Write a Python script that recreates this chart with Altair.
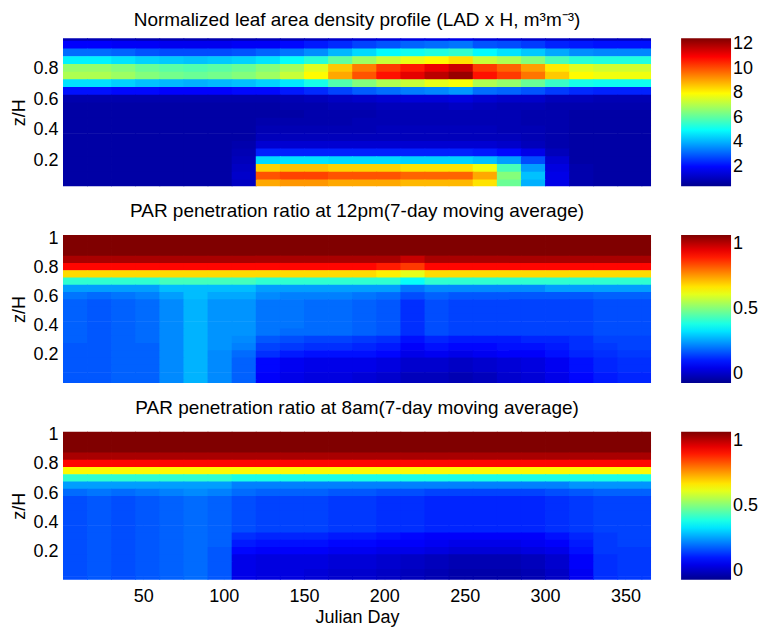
import altair as alt
import pandas as pd

FONT = "Liberation Sans"

# Julian-day bins (start of each 15-day column)
DAYS = [0, 15, 30, 45, 60, 75, 90, 105, 120, 135, 150, 165, 180,
        195, 210, 225, 240, 255, 270, 285, 300, 315, 330, 345, 360]
DAY_LAST = 366

# normalized height levels (z/H), top to bottom
Z_LAD = [1.0, 0.95, 0.9, 0.85, 0.8, 0.75, 0.7, 0.65, 0.6, 0.55, 0.5,
         0.45, 0.4, 0.35, 0.3, 0.25, 0.2, 0.15, 0.1, 0.05]
Z_PAR = [1.0, 0.95, 0.9, 0.85, 0.8, 0.75, 0.7, 0.65, 0.6, 0.55, 0.5,
         0.45, 0.4, 0.35, 0.3, 0.25, 0.2, 0.15, 0.1, 0.05, 0.0]

# Panel 1: normalized leaf area density (LAD x H)
LAD = [
    [0.9,0.9,0.9,0.8,0.8,0.8,0.8,0.8,0.9,0.9,1.0,1.2,1.3,1.4,1.5,1.5,1.6,1.4,1.3,1.2,1.1,1.0,1.0,1.0,1.0],
    [1.9,1.9,1.8,1.8,1.7,1.7,1.7,1.8,1.8,2.0,2.2,2.4,2.7,2.9,3.1,3.2,3.3,2.9,2.8,2.6,2.3,2.2,2.1,2.1,2.1],
    [3.2,3.2,3.1,2.9,2.8,2.8,2.8,2.9,3.1,3.3,3.6,4.1,4.5,4.9,5.1,5.3,5.5,4.9,4.6,4.3,3.9,3.6,3.5,3.5,3.5],
    [4.8,4.8,4.6,4.4,4.3,4.2,4.3,4.4,4.6,5.0,5.4,6.1,6.8,7.3,7.7,8.0,8.3,7.3,7.0,6.5,5.8,5.4,5.3,5.3,5.3],
    [6.7,6.7,6.5,6.2,6.0,5.9,6.0,6.2,6.5,6.9,7.6,8.6,9.5,10.3,10.7,11.2,11.6,10.3,9.8,9.1,8.2,7.6,7.4,7.4,7.4],
    [7.0,7.0,6.8,6.5,6.3,6.2,6.3,6.5,6.8,7.3,8.0,9.0,10.0,10.8,11.3,11.8,12.2,10.8,10.3,9.6,8.6,8.0,7.8,7.8,7.8],
    [4.6,4.6,4.4,4.2,4.1,4.0,4.1,4.2,4.4,4.7,5.2,5.9,6.5,7.0,7.3,7.7,7.9,7.0,6.7,6.2,5.6,5.2,5.1,5.1,5.1],
    [2.1,2.1,2.0,2.0,1.9,1.9,1.9,2.0,2.0,2.2,2.4,2.7,3.0,3.2,3.4,3.5,3.7,3.2,3.1,2.9,2.6,2.4,2.3,2.3,2.3],
    [0.8,0.8,0.8,0.8,0.8,0.8,0.8,0.8,0.8,0.9,1.0,1.1,1.2,1.3,1.4,1.4,1.5,1.3,1.2,1.2,1.0,1.0,0.9,0.9,0.9],
    [0.7,0.7,0.7,0.7,0.7,0.7,0.7,0.7,0.7,0.8,0.8,0.9,0.9,1.0,1.0,1.0,1.1,1.0,0.9,0.9,0.8,0.8,0.8,0.8,0.8],
    [0.7,0.7,0.7,0.7,0.7,0.7,0.7,0.7,0.7,0.7,0.8,0.8,0.8,0.9,0.9,0.9,0.9,0.9,0.9,0.8,0.8,0.7,0.7,0.7,0.7],
    [0.7,0.7,0.7,0.7,0.7,0.7,0.7,0.7,0.8,0.8,0.8,0.8,0.9,0.9,0.9,0.9,0.9,0.9,0.9,0.8,0.8,0.7,0.7,0.7,0.7],
    [0.7,0.7,0.7,0.7,0.7,0.7,0.7,0.7,0.9,0.9,0.9,0.9,0.9,1.0,1.0,1.0,1.0,1.0,0.9,0.9,0.8,0.7,0.7,0.7,0.7],
    [0.7,0.7,0.7,0.7,0.7,0.7,0.7,0.7,1.0,1.0,1.0,1.0,1.0,1.0,1.0,1.0,1.0,1.0,1.0,0.9,0.8,0.7,0.7,0.7,0.7],
    [0.7,0.7,0.7,0.7,0.7,0.7,0.7,0.8,1.3,1.3,1.3,1.3,1.3,1.3,1.3,1.3,1.3,1.3,1.2,1.0,0.8,0.7,0.7,0.7,0.7],
    [0.7,0.7,0.7,0.7,0.7,0.7,0.7,0.9,2.3,2.3,2.3,2.3,2.3,2.3,2.3,2.3,2.3,2.2,2.0,1.6,1.0,0.7,0.7,0.7,0.7],
    [0.7,0.7,0.7,0.7,0.7,0.7,0.7,1.0,4.5,4.6,4.6,4.5,4.5,4.5,4.4,4.4,4.4,4.2,3.8,2.8,1.3,0.7,0.7,0.7,0.7],
    [0.7,0.7,0.7,0.7,0.7,0.7,0.7,1.1,8.5,8.7,8.7,8.5,8.5,8.5,8.3,8.3,8.3,7.8,5.8,3.8,1.5,0.8,0.7,0.7,0.7],
    [0.7,0.7,0.7,0.7,0.7,0.7,0.7,1.2,10.0,10.2,10.2,10.0,10.0,10.0,9.8,9.8,9.8,9.0,6.5,4.2,1.6,0.8,0.7,0.7,0.7],
    [0.7,0.7,0.7,0.7,0.7,0.7,0.7,1.1,9.0,9.2,9.2,9.0,9.0,9.0,8.8,8.8,8.8,8.3,6.2,4.0,1.6,0.8,0.7,0.7,0.7],
]

# Panel 2: PAR penetration ratio at 12pm
PAR12 = [
    [1.0]*25,
    [1.0]*25,
    [1.0]*25,
    [0.96,0.96,0.96,0.96,0.96,0.96,0.96,0.96,0.96,0.96,0.96,0.96,0.96,0.96,0.93,0.96,0.96,0.96,0.96,0.96,0.96,0.96,0.96,0.96,0.96],
    [0.87,0.87,0.87,0.87,0.87,0.87,0.87,0.87,0.87,0.87,0.87,0.87,0.87,0.85,0.82,0.87,0.87,0.87,0.87,0.87,0.87,0.87,0.87,0.87,0.87],
    [0.66,0.66,0.66,0.66,0.66,0.66,0.66,0.66,0.66,0.66,0.66,0.66,0.66,0.64,0.60,0.66,0.66,0.66,0.66,0.66,0.66,0.66,0.66,0.66,0.66],
    [0.42,0.42,0.42,0.42,0.44,0.44,0.44,0.44,0.42,0.42,0.42,0.42,0.42,0.42,0.38,0.42,0.42,0.42,0.42,0.42,0.42,0.42,0.42,0.42,0.42],
    [0.28,0.28,0.28,0.28,0.31,0.31,0.31,0.31,0.28,0.28,0.28,0.28,0.28,0.28,0.24,0.26,0.26,0.26,0.26,0.26,0.28,0.28,0.28,0.28,0.28],
    [0.24,0.23,0.24,0.25,0.28,0.31,0.29,0.29,0.26,0.25,0.25,0.25,0.24,0.23,0.20,0.22,0.21,0.21,0.21,0.21,0.21,0.21,0.22,0.22,0.22],
    [0.22,0.21,0.22,0.23,0.26,0.30,0.27,0.27,0.24,0.24,0.23,0.23,0.22,0.21,0.17,0.20,0.19,0.19,0.19,0.19,0.19,0.19,0.20,0.20,0.20],
    [0.22,0.21,0.22,0.23,0.26,0.30,0.27,0.27,0.24,0.24,0.23,0.23,0.22,0.21,0.17,0.20,0.19,0.19,0.19,0.19,0.19,0.19,0.20,0.20,0.20],
    [0.22,0.21,0.22,0.23,0.26,0.30,0.27,0.27,0.24,0.24,0.23,0.23,0.22,0.21,0.17,0.20,0.19,0.19,0.19,0.19,0.19,0.19,0.20,0.20,0.20],
    [0.22,0.21,0.22,0.23,0.26,0.30,0.27,0.27,0.24,0.24,0.23,0.23,0.22,0.21,0.17,0.20,0.19,0.19,0.19,0.19,0.19,0.19,0.20,0.20,0.20],
    [0.22,0.21,0.22,0.23,0.26,0.30,0.27,0.27,0.24,0.23,0.23,0.23,0.22,0.21,0.17,0.20,0.19,0.19,0.19,0.19,0.19,0.19,0.20,0.20,0.20],
    [0.22,0.21,0.22,0.23,0.26,0.30,0.27,0.26,0.21,0.20,0.19,0.19,0.18,0.17,0.14,0.16,0.15,0.15,0.15,0.16,0.16,0.17,0.19,0.19,0.19],
    [0.21,0.21,0.22,0.22,0.26,0.30,0.27,0.25,0.19,0.18,0.17,0.17,0.16,0.15,0.12,0.14,0.13,0.13,0.14,0.14,0.15,0.17,0.18,0.19,0.19],
    [0.21,0.21,0.22,0.22,0.26,0.30,0.26,0.23,0.17,0.15,0.14,0.14,0.14,0.13,0.10,0.11,0.10,0.11,0.12,0.12,0.14,0.16,0.17,0.18,0.18],
    [0.21,0.21,0.22,0.22,0.26,0.30,0.26,0.22,0.13,0.11,0.10,0.10,0.10,0.09,0.07,0.07,0.06,0.07,0.08,0.09,0.11,0.14,0.16,0.17,0.17],
    [0.21,0.21,0.22,0.22,0.26,0.30,0.26,0.22,0.13,0.11,0.10,0.10,0.10,0.09,0.07,0.07,0.06,0.07,0.08,0.09,0.11,0.14,0.16,0.17,0.17],
    [0.21,0.21,0.22,0.22,0.26,0.30,0.26,0.22,0.12,0.10,0.09,0.09,0.08,0.07,0.05,0.05,0.04,0.05,0.07,0.08,0.10,0.13,0.15,0.16,0.16],
    [0.21,0.21,0.22,0.22,0.26,0.30,0.26,0.22,0.12,0.10,0.09,0.09,0.08,0.07,0.05,0.05,0.04,0.05,0.07,0.08,0.10,0.13,0.15,0.16,0.16],
]

# Panel 3: PAR penetration ratio at 8am
PAR8 = [
    [1.0]*25,
    [1.0]*25,
    [1.0]*25,
    [0.96]*25,
    [0.87]*25,
    [0.63]*25,
    [0.42,0.42,0.42,0.42,0.42,0.42,0.42,0.40,0.40,0.40,0.40,0.40,0.40,0.40,0.40,0.40,0.40,0.40,0.40,0.40,0.40,0.40,0.40,0.40,0.40],
    [0.28,0.28,0.28,0.28,0.28,0.28,0.28,0.25,0.25,0.25,0.25,0.25,0.25,0.25,0.25,0.25,0.25,0.25,0.25,0.25,0.25,0.27,0.27,0.27,0.27],
    [0.23,0.24,0.23,0.24,0.25,0.26,0.25,0.23,0.22,0.22,0.22,0.21,0.21,0.20,0.20,0.19,0.19,0.19,0.19,0.19,0.20,0.21,0.22,0.22,0.22],
    [0.20,0.21,0.20,0.21,0.22,0.23,0.22,0.20,0.19,0.19,0.19,0.18,0.18,0.17,0.17,0.16,0.16,0.16,0.16,0.16,0.17,0.18,0.19,0.19,0.19],
    [0.20,0.21,0.20,0.21,0.22,0.23,0.22,0.20,0.19,0.19,0.19,0.18,0.18,0.17,0.17,0.16,0.16,0.16,0.16,0.16,0.17,0.18,0.19,0.19,0.19],
    [0.20,0.21,0.20,0.21,0.22,0.23,0.22,0.20,0.19,0.19,0.19,0.18,0.18,0.17,0.17,0.16,0.16,0.16,0.16,0.16,0.17,0.18,0.19,0.19,0.19],
    [0.20,0.21,0.20,0.21,0.22,0.23,0.22,0.20,0.19,0.19,0.19,0.18,0.18,0.17,0.17,0.16,0.16,0.16,0.16,0.16,0.17,0.18,0.19,0.19,0.19],
    [0.20,0.21,0.20,0.21,0.22,0.23,0.22,0.20,0.19,0.19,0.19,0.18,0.18,0.17,0.17,0.16,0.16,0.16,0.16,0.16,0.17,0.18,0.19,0.19,0.19],
    [0.20,0.21,0.20,0.21,0.22,0.23,0.22,0.17,0.16,0.16,0.16,0.15,0.15,0.14,0.13,0.12,0.12,0.12,0.12,0.12,0.14,0.16,0.18,0.19,0.19],
    [0.20,0.21,0.20,0.21,0.22,0.23,0.22,0.15,0.14,0.14,0.14,0.13,0.13,0.12,0.12,0.11,0.10,0.10,0.10,0.11,0.12,0.15,0.18,0.19,0.19],
    [0.20,0.21,0.20,0.21,0.22,0.23,0.21,0.13,0.12,0.12,0.12,0.11,0.11,0.10,0.10,0.09,0.08,0.08,0.08,0.09,0.10,0.14,0.18,0.18,0.18],
    [0.20,0.21,0.20,0.21,0.22,0.23,0.21,0.10,0.09,0.09,0.09,0.08,0.08,0.07,0.06,0.05,0.04,0.04,0.04,0.05,0.07,0.12,0.17,0.18,0.18],
    [0.20,0.21,0.20,0.21,0.22,0.23,0.21,0.10,0.09,0.09,0.09,0.08,0.08,0.07,0.06,0.05,0.04,0.04,0.04,0.05,0.07,0.12,0.17,0.18,0.18],
    [0.20,0.21,0.20,0.21,0.22,0.23,0.21,0.10,0.09,0.09,0.08,0.07,0.07,0.06,0.05,0.04,0.03,0.03,0.03,0.04,0.06,0.11,0.17,0.18,0.18],
    [0.20,0.21,0.20,0.21,0.22,0.23,0.21,0.10,0.09,0.09,0.08,0.07,0.07,0.06,0.05,0.04,0.03,0.03,0.03,0.04,0.06,0.11,0.17,0.18,0.18],
]

TITLES = [
    "Normalized leaf area density profile (LAD x H, m\u00b3m\u207b\u00b3)",
    "PAR penetration ratio at 12pm(7-day moving average)",
    "PAR penetration ratio at 8am(7-day moving average)",
]
X_TICKS = [50, 100, 150, 200, 250, 300, 350]

# MATLAB "jet" colour stops (fractions 0, 1/8, 3/8, 5/8, 7/8, 1)
JET = ["#00008f", "#0000ff", "#00ffff", "#ffff00", "#ff0000", "#800000"]
JET_FRAC = [0, 0.125, 0.375, 0.625, 0.875, 1.0]

W, H = 589, 148
ZSTEP = 0.05
FS = 18
TFS = 19
# tiny overlap between neighbouring cells so no hairline seams show
OV_DAY = 0.5
OV_Z = 0.004


def tidy(rows, zs):
    recs = []
    for zi, z in enumerate(zs):
        for j, d in enumerate(DAYS):
            d1 = DAYS[j + 1] + OV_DAY if j + 1 < len(DAYS) else DAY_LAST
            recs.append({"d0": d, "d1": d1, "z0": z - ZSTEP / 2,
                         "z1": z + ZSTEP / 2 + OV_Z, "v": rows[zi][j]})
    return pd.DataFrame(recs)


def panel(rows, zs, ydom, yticks, cdom, cticks, cfmt, title, bottom):
    lo, hi = cdom
    stops = [lo + f * (hi - lo) for f in JET_FRAC]
    cscale = alt.Scale(domain=stops, range=JET, interpolate="rgb", clamp=True)
    if bottom:
        xaxis = alt.Axis(values=X_TICKS, title="Julian Day", ticks=False,
                         domain=False, labelPadding=8, titlePadding=3,
                         labelFontSize=FS, titleFontSize=FS,
                         titleFontWeight="normal", labelFont=FONT,
                         titleFont=FONT, labelColor="black", titleColor="black")
    else:
        xaxis = None
    return alt.Chart(tidy(rows, zs)).mark_rect(clip=True).encode(
        x=alt.X("d0:Q", scale=alt.Scale(domain=[0, DAY_LAST], nice=False, zero=False),
                axis=xaxis),
        x2="d1",
        y=alt.Y("z0:Q", scale=alt.Scale(domain=ydom, nice=False, zero=False),
                axis=alt.Axis(values=yticks, title="z/H", ticks=False, domain=False,
                              grid=False, labelPadding=5, titlePadding=4,
                              labelFontSize=FS, titleFontSize=FS,
                              titleFontWeight="normal", labelFont=FONT,
                              titleFont=FONT, labelColor="black",
                              titleColor="black", format=".1~f")),
        y2="z1",
        color=alt.Color("v:Q", scale=cscale,
                        legend=alt.Legend(type="gradient", title=None, values=cticks,
                                          format=cfmt,
                                          gradientLength=H, gradientThickness=50,
                                          gradientStrokeWidth=0, labelFontSize=FS,
                                          labelFont=FONT, labelColor="black",
                                          offset=30, labelOffset=2,
                                          direction="vertical", orient="right")),
    ).properties(
        width=W, height=H,
        title=alt.TitleParams(title, fontSize=TFS, font=FONT, fontWeight="normal",
                              color="black", anchor="middle", frame="group",
                              offset=8),
    )


p1 = panel(LAD, Z_LAD, [0.035, 0.995], [0.2, 0.4, 0.6, 0.8], [0.4, 12.5],
           [2, 4, 6, 8, 10, 12], "d", TITLES[0], False)
p2 = panel(PAR12, Z_PAR, [0.005, 1.02], [0.2, 0.4, 0.6, 0.8, 1], [0, 1],
           [0, 0.5, 1], ".1~f", TITLES[1], False)
p3 = panel(PAR8, Z_PAR, [0.005, 1.02], [0.2, 0.4, 0.6, 0.8, 1], [0, 1],
           [0, 0.5, 1], ".1~f", TITLES[2], True)

chart = alt.vconcat(p1, p2, p3, spacing=15).resolve_scale(
    color="independent", y="independent"
).properties(
    padding={"left": 2, "right": 0, "top": 3, "bottom": 0}
).configure_view(stroke=None)

chart.save("out.html", embed_options={"renderer": "svg", "actions": False})
